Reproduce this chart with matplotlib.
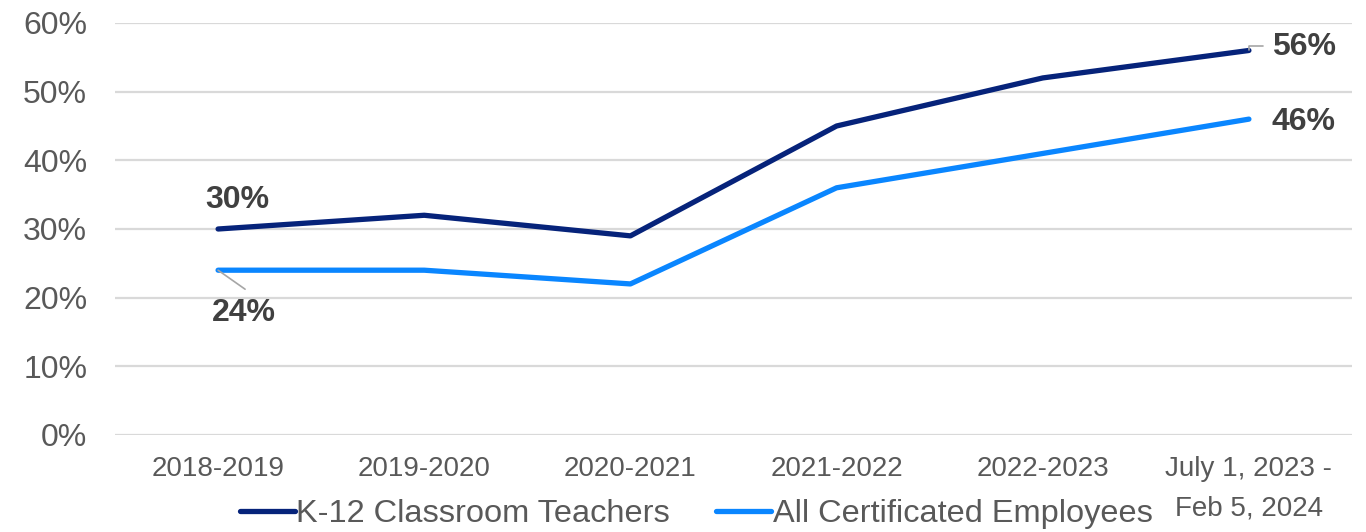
import matplotlib
matplotlib.use("Agg")
import matplotlib.pyplot as plt
from matplotlib import font_manager
from matplotlib.font_manager import FontProperties

categories = ["2018-2019", "2019-2020", "2020-2021", "2021-2022", "2022-2023",
              "July 1, 2023 -\nFeb 5, 2024"]
k12_teachers = [30, 32, 29, 45, 52, 56]
all_certificated = [24, 24, 22, 36, 41, 46]
y_ticks = [0, 10, 20, 30, 40, 50, 60]

NAVY = "#06237a"
BLUE = "#0a86ff"
GRID = "#d9d9d9"
TICK = "#595959"
LABEL = "#404040"

# prefer a narrow sans for the category and legend text when one is available
narrow_file = None
for f in font_manager.fontManager.ttflist:
    fn = f.fname.lower()
    if "liberationsansnarrow-regular" in fn or "arialn" in fn.split("/")[-1]:
        narrow_file = f.fname
        break


def narrow_props(size):
    if narrow_file:
        return FontProperties(fname=narrow_file, size=size)
    return FontProperties(family="Liberation Sans", size=size)


narrow_scale = 1.0 if narrow_file is None else 1.15

fig = plt.figure(figsize=(13.66, 5.32), dpi=100)
ax = fig.add_axes([115 / 1366, 97 / 532, 1237 / 1366, 412 / 532])

x = list(range(len(categories)))
ax.plot(x, k12_teachers, color=NAVY, lw=3.8, solid_capstyle="round",
        solid_joinstyle="round", label="K-12 Classroom Teachers", zorder=3)
ax.plot(x, all_certificated, color=BLUE, lw=3.8, solid_capstyle="round",
        solid_joinstyle="round", label="All Certificated Employees", zorder=3)

ax.set_xlim(-0.5, len(categories) - 0.5)
ax.set_ylim(0, 60)
ax.set_yticks(y_ticks)
ax.set_yticklabels([f"{v}%" for v in y_ticks], family="Liberation Sans",
                   fontsize=23, color=TICK)
ax.set_xticks(x)
ax.set_xticklabels(categories, linespacing=1.7, color=TICK,
                   fontproperties=narrow_props(20 * narrow_scale), va="top")
ax.grid(axis="y", color=GRID, lw=1.6)
ax.set_axisbelow(True)
for s in ax.spines.values():
    s.set_visible(False)
ax.tick_params(axis="both", length=0)
ax.tick_params(axis="y", pad=20)
ax.tick_params(axis="x", pad=15)

lab_kw = dict(fontsize=23, fontweight="bold", color=LABEL, family="Liberation Sans")
# first-point labels
ax.annotate(f"{k12_teachers[0]}%", xy=(0, k12_teachers[0]), xytext=(19, 29),
            textcoords="offset pixels", ha="center", va="center", **lab_kw)
ax.annotate(f"{all_certificated[0]}%", xy=(0, all_certificated[0]), xytext=(26, -43),
            textcoords="offset pixels", ha="center", va="center", **lab_kw)
ax.annotate("", xy=(0, all_certificated[0]), xytext=(27, -19),
            textcoords="offset pixels",
            arrowprops=dict(arrowstyle="-", color="#a6a6a6", lw=1.2, shrinkA=0, shrinkB=0))
# last-point labels
last = len(categories) - 1
ax.annotate(f"{k12_teachers[-1]}%", xy=(last, k12_teachers[-1]), xytext=(23, 3),
            textcoords="offset pixels", ha="left", va="center", **lab_kw)
ax.annotate("", xy=(last, k12_teachers[-1]), xytext=(14, 4),
            textcoords="offset pixels",
            arrowprops=dict(arrowstyle="-", color="#a6a6a6", lw=1.2, shrinkA=0, shrinkB=0,
                            connectionstyle="angle,angleA=0,angleB=90,rad=0"))
ax.annotate(f"{all_certificated[-1]}%", xy=(last, all_certificated[-1]), xytext=(23, -3),
            textcoords="offset pixels", ha="left", va="center", **lab_kw)

leg = fig.legend(loc="center", bbox_to_anchor=(696 / 1366, 18 / 532), ncol=2,
                 frameon=False, handlelength=1.7, handletextpad=0.05,
                 columnspacing=1.4, prop=narrow_props(23.4 * narrow_scale))
for t in leg.get_texts():
    t.set_color(TICK)
for h in leg.get_lines():
    h.set_linewidth(3.8)

fig.savefig("out.png", dpi=100)
